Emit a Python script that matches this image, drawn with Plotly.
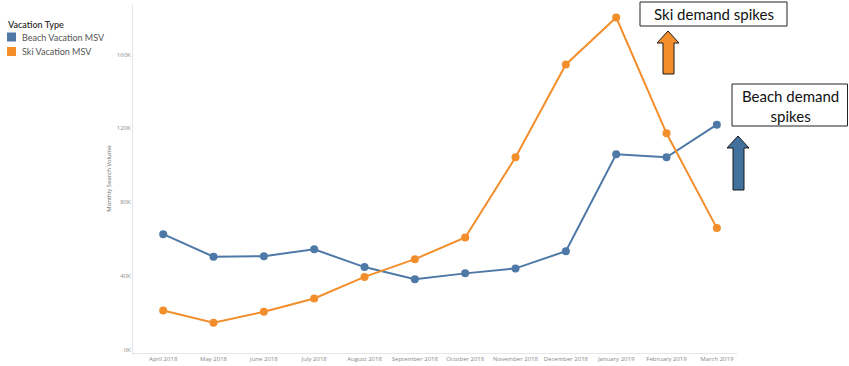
import plotly.graph_objects as go

months = ["April 2018", "May 2018", "June 2018", "July 2018", "August 2018",
          "September 2018", "October 2018", "November 2018", "December 2018",
          "January 2019", "February 2019", "March 2019"]
beach_msv = [62700, 50500, 50800, 54500, 44900, 38300, 41500, 44200, 53500, 106000, 104300, 122000]
ski_msv = [21400, 14800, 20700, 27900, 39600, 49200, 60900, 104300, 154600, 180000, 117300, 66000]
y_tick_vals = [0, 40000, 80000, 120000, 160000]
y_tick_text = ["0K", "40K", "80K", "120K", "160K"]
series_names = ["Beach Vacation MSV", "Ski Vacation MSV"]

BLUE = "#4e79a7"
ORANGE = "#f28e2b"

W, H = 849, 366
ML, MR, MT, MB = 133, 112, 4, 13
PW, PH = W - ML - MR, H - MT - MB


def px(X):
    return (X - ML) / PW


def py(Y):
    return (H - MB - Y) / PH


fig = go.Figure()
fig.add_trace(go.Scatter(x=months, y=beach_msv, mode="lines+markers", name=series_names[0],
                         line=dict(color=BLUE, width=2), marker=dict(color=BLUE, size=8),
                         showlegend=False, cliponaxis=False))
fig.add_trace(go.Scatter(x=months, y=ski_msv, mode="lines+markers", name=series_names[1],
                         line=dict(color=ORANGE, width=2), marker=dict(color=ORANGE, size=8),
                         showlegend=False, cliponaxis=False))

shapes = []
annotations = []

# legend (drawn manually to match Tableau layout)
annotations.append(dict(text="Vacation Type", xref="paper", yref="paper", x=px(5), y=py(24),
                        xanchor="left", yanchor="middle", showarrow=False,
                        font=dict(family="Lato", size=9, color="#333", weight=600)))
for i, (nm, c) in enumerate(zip(series_names, [BLUE, ORANGE])):
    cy = 37 + i * 14.5
    shapes.append(dict(type="rect", xref="paper", yref="paper", x0=px(7), x1=px(16),
                       y0=py(cy + 4.5), y1=py(cy - 4.5), fillcolor=c, line=dict(width=0)))
    annotations.append(dict(text=nm, xref="paper", yref="paper", x=px(20), y=py(cy),
                            xanchor="left", yanchor="middle", showarrow=False,
                            font=dict(family="Lato", size=9, color="#555")))

# annotation boxes
shapes.append(dict(type="rect", xref="paper", yref="paper", x0=px(640), x1=px(787), y0=py(26), y1=py(2),
                   line=dict(color="#222", width=1), fillcolor="white", layer="above"))
shapes.append(dict(type="rect", xref="paper", yref="paper", x0=px(732), x1=px(847.5), y0=py(126), y1=py(84),
                   line=dict(color="#222", width=1), fillcolor="white", layer="above"))


def arrow(tipx, tipy, hl, hr, hb, sl, sr, bot, col):
    pts = [(tipx, tipy), (hr, hb), (sr, hb), (sr, bot), (sl, bot), (sl, hb), (hl, hb)]
    path = "M " + " L ".join(f"{px(a):.5f},{py(b):.5f}" for a, b in pts) + " Z"
    return dict(type="path", xref="paper", yref="paper", path=path,
                fillcolor=col, line=dict(color="#1a1a1a", width=1))


shapes.append(arrow(668, 31, 657, 679, 43, 663, 674, 74, ORANGE))
shapes.append(arrow(738, 136, 727, 749, 148, 733, 744, 190, "#41719c"))

annotations += [
    dict(text="Ski demand spikes", xref="paper", yref="paper", x=px(713.5), y=py(14),
         xanchor="center", yanchor="middle",
         showarrow=False, font=dict(family="Lato", size=15, color="#111")),
    dict(text="Beach demand<br>spikes", xref="paper", yref="paper", x=px(790), y=py(106),
         xanchor="center", yanchor="middle",
         showarrow=False, font=dict(family="Lato", size=15, color="#111")),
]

fig.update_layout(
    width=W, height=H,
    margin=dict(l=ML, r=MR, t=MT, b=MB, autoexpand=False),
    plot_bgcolor="white", paper_bgcolor="white",
    font=dict(family="Open Sans", color="#777"),
    shapes=shapes, annotations=annotations,
    showlegend=False,
    xaxis=dict(range=[-0.6, 11.4], showgrid=False, showline=True, linecolor="#e6e6e6",
               tickfont=dict(size=6, color="#888"), ticks="", zeroline=False,
               automargin=False, fixedrange=True),
    yaxis=dict(range=[-1600, 187300], tickvals=y_tick_vals, ticktext=y_tick_text,
               showgrid=False, showline=True, linecolor="#e6e6e6", zeroline=False,
               tickfont=dict(size=6, color="#888"), ticks="", automargin=False,
               title=dict(text="Monthly Search Volume", font=dict(size=6, color="#666"), standoff=4)),
)

fig.write_html("out.html", config={"displayModeBar": False},
               post_script="document.body.style.margin='0';document.body.style.overflow='hidden';")
